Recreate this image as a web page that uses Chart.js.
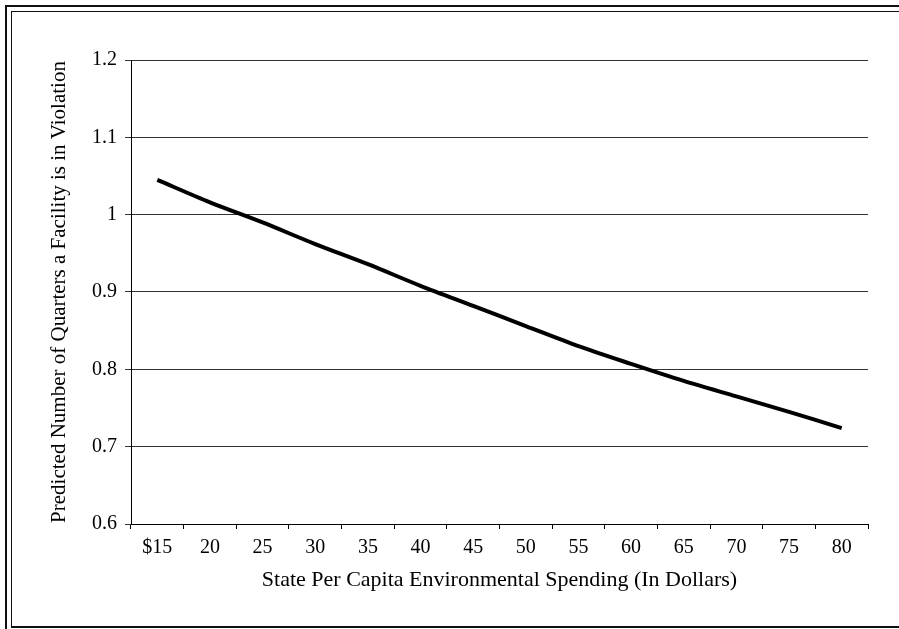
<!DOCTYPE html>
<html>
<head>
<meta charset="utf-8">
<script src="https://cdn.jsdelivr.net/npm/chart.js@4"></script>
<style>
  html, body { margin: 0; padding: 0; background: #fff; }
  #wrap { position: relative; width: 899px; height: 629px; overflow: hidden; }
  #chart { position: absolute; left: 0; top: 0; }
  .frame { position: absolute; background: #111; }
</style>
</head>
<body>
<div id="wrap">
  <canvas id="chart" width="899" height="629"></canvas>
  <!-- double frame: left + top, single bottom -->
  <div class="frame" style="left:5px;top:5px;width:2px;height:624px"></div>
  <div class="frame" style="left:5px;top:5px;width:894px;height:2px"></div>
  <div class="frame" style="left:11px;top:11px;width:1px;height:616px"></div>
  <div class="frame" style="left:11px;top:11px;width:888px;height:1px"></div>
  <div class="frame" style="left:11px;top:626px;width:888px;height:2px"></div>
</div>
<script>
const spending = ['$15', '20', '25', '30', '35', '40', '45', '50', '55', '60', '65', '70', '75', '80'];
const predictedQuarters = [1.045, 1.016, 0.990, 0.962, 0.936, 0.908, 0.882, 0.856, 0.830, 0.807, 0.785, 0.765, 0.745, 0.724];
const yTicks = [0.6, 0.7, 0.8, 0.9, 1, 1.1, 1.2];

const serif = "'Liberation Serif', 'Times New Roman', serif";

const ctx = document.getElementById('chart').getContext('2d');

new Chart(ctx, {
    type: 'line',
    data: {
        labels: spending,
        datasets: [{
            data: predictedQuarters,
            borderColor: '#000',
            borderWidth: 4,
            pointRadius: 0,
            tension: 0.3,
            fill: false
        }]
    },
    options: {
        responsive: false,
        animation: false,
        layout: { padding: { left: 12, top: 60, right: 31, bottom: 0 } },
        plugins: {
            legend: { display: false },
            tooltip: { enabled: false }
        },
        scales: {
            x: {
                type: 'category',
                offset: true,
                afterFit: s => { s.height = 105; },
                grid: {
                    offset: true,
                    drawOnChartArea: false,
                    drawTicks: true,
                    tickLength: 5,
                    color: '#000'
                },
                border: { color: '#000', width: 1 },
                ticks: {
                    color: '#000',
                    padding: 7,
                    maxRotation: 0,
                    autoSkip: false,
                    font: { family: serif, size: 20 }
                },
                title: {
                    display: true,
                    text: 'State Per Capita Environmental Spending (In Dollars)',
                    color: '#000',
                    font: { family: serif, size: 22 },
                    padding: { top: 4, bottom: 36 }
                }
            },
            y: {
                min: 0.6,
                max: 1.2,
                afterFit: s => { s.width = 119; },
                afterBuildTicks: s => { s.ticks = yTicks.map(v => ({ value: v })); },
                grid: {
                    color: '#333',
                    lineWidth: 1,
                    tickLength: 6
                },
                border: { color: '#000', width: 1 },
                ticks: {
                    color: '#000',
                    padding: 8,
                    font: { family: serif, size: 20 },
                    callback: v => String(Math.round(v * 10) / 10)
                },
                title: {
                    display: true,
                    text: 'Predicted Number of Quarters a Facility is in Violation',
                    color: '#000',
                    font: { family: serif, size: 21 },
                    padding: { top: 35, bottom: 4 }
                }
            }
        }
    }
});
</script>
</body>
</html>
